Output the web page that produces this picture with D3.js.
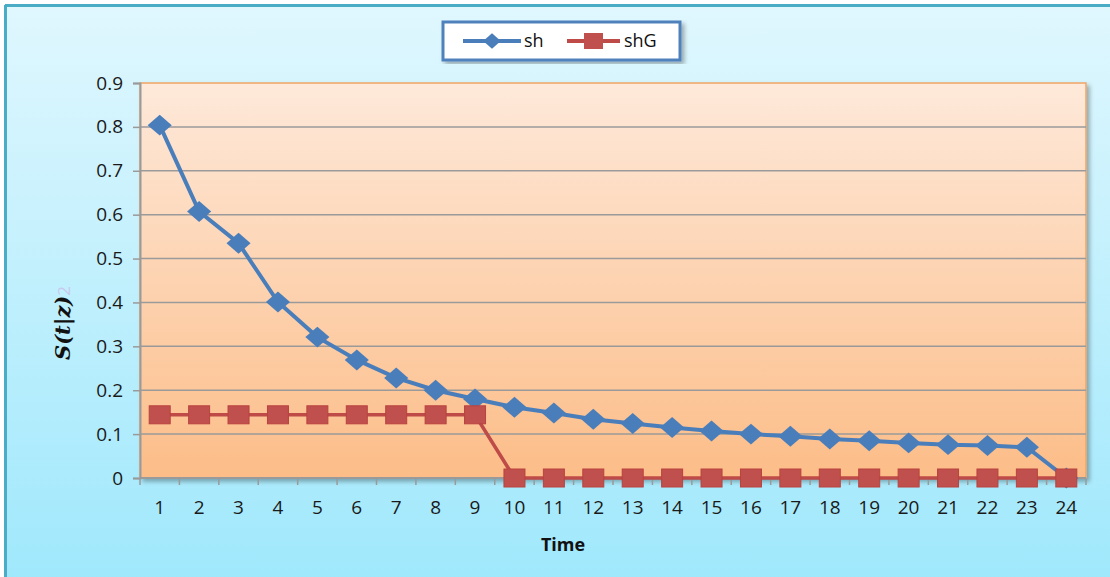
<!DOCTYPE html>
<html lang="en">
<head>
  <meta charset="UTF-8">
  <title>S(t|z) over time</title>
  <style>
    body { margin: 0; background: #fff; }
    text { font-family: "Open Sans", "Noto Sans", sans-serif; }
  </style>
</head>
<body>
  <svg width="1110" height="577"></svg>
  <script src="https://cdn.jsdelivr.net/npm/d3@7/dist/d3.min.js"></script>
  <script>
    var times = d3.range(1, 25)
    var sh = [0.804, 0.607, 0.535, 0.401, 0.321, 0.269, 0.228, 0.200, 0.180, 0.161, 0.148, 0.134,
              0.124, 0.115, 0.107, 0.100, 0.095, 0.089, 0.085, 0.080, 0.076, 0.074, 0.070, 0]
    var shG = [0.144, 0.144, 0.144, 0.144, 0.144, 0.144, 0.144, 0.144, 0.144, 0, 0, 0,
               0, 0, 0, 0, 0, 0, 0, 0, 0, 0, 0, 0]
    var yTicks = [0, 0.1, 0.2, 0.3, 0.4, 0.5, 0.6, 0.7, 0.8, 0.9]

    var svg = d3.select('svg')
    var defs = svg.append('defs')

    var bg = defs.append('linearGradient').attr('id', 'bg')
      .attr('x1', 0).attr('y1', 0).attr('x2', 0).attr('y2', 1)
    bg.append('stop').attr('offset', '0%').attr('stop-color', '#e0f7fe')
    bg.append('stop').attr('offset', '100%').attr('stop-color', '#9fe8fc')

    var pg = defs.append('linearGradient').attr('id', 'plotbg')
      .attr('x1', 0).attr('y1', 0).attr('x2', 0).attr('y2', 1)
    pg.append('stop').attr('offset', '0%').attr('stop-color', '#fee9da')
    pg.append('stop').attr('offset', '100%').attr('stop-color', '#fcbd88')

    var sf = defs.append('filter').attr('id', 'shadow')
      .attr('x', '-5%').attr('y', '-5%').attr('width', '110%').attr('height', '115%')
    sf.append('feDropShadow').attr('dx', 3).attr('dy', 3).attr('stdDeviation', 2)
      .attr('flood-color', '#000').attr('flood-opacity', 0.3)

    // outer chart area
    svg.append('rect').attr('x', 5).attr('y', 5).attr('width', 1110).attr('height', 580)
      .attr('fill', 'url(#bg)')
    svg.append('line').attr('x1', 5).attr('x2', 1110).attr('y1', 5.5).attr('y2', 5.5)
      .attr('stroke', '#4bacc6').attr('stroke-width', 3)
    svg.append('line').attr('x1', 5.5).attr('x2', 5.5).attr('y1', 5).attr('y2', 577)
      .attr('stroke', '#4bacc6').attr('stroke-width', 3)

    var pLeft = 140, pRight = 1086, pTop = 83, pBottom = 478

    var x = d3.scaleBand().domain(times).range([pLeft, pRight])
    var y = d3.scaleLinear().domain([0, 0.9]).range([pBottom, pTop])

    svg.append('rect').attr('x', pLeft).attr('y', pTop)
      .attr('width', pRight - pLeft).attr('height', pBottom - pTop)
      .attr('fill', 'url(#plotbg)').attr('stroke', '#f0a565').attr('stroke-width', 1.5)
      .attr('filter', 'url(#shadow)')

    // gridlines
    svg.append('g').selectAll('line')
      .data(yTicks.filter(function(d) { return d > 0 && d < 0.9 }))
      .enter().append('line')
      .attr('x1', pLeft).attr('x2', pRight)
      .attr('y1', function(d) { return y(d) }).attr('y2', function(d) { return y(d) })
      .attr('stroke', '#9a9a9a').attr('stroke-width', 1.5)

    // y axis
    var yAxis = svg.append('g').attr('transform', 'translate(' + pLeft + ',0)')
      .call(d3.axisLeft(y).tickValues(yTicks).tickSize(7).tickPadding(10)
        .tickFormat(function(d) { return d === 0 ? '0' : d3.format('.1f')(d) }))
    yAxis.select('.domain').attr('stroke', '#9a9a9a').attr('stroke-width', 2)
    yAxis.selectAll('.tick line').attr('stroke', '#9a9a9a').attr('stroke-width', 1.5)
    yAxis.selectAll('.tick text').attr('font-size', 19).attr('fill', '#1a1a1a')
      .style('font-family', '"Open Sans", sans-serif')

    // x axis
    var xAxis = svg.append('g').attr('transform', 'translate(0,' + pBottom + ')')
    xAxis.append('line').attr('x1', pLeft).attr('x2', pRight)
      .attr('stroke', '#9a9a9a').attr('stroke-width', 2)
    var bounds = times.map(function(t) { return x(t) }).concat([pRight])
    xAxis.selectAll('line.tk').data(bounds).enter().append('line').attr('class', 'tk')
      .attr('x1', function(d) { return d }).attr('x2', function(d) { return d })
      .attr('y1', 0).attr('y2', 7).attr('stroke', '#9a9a9a').attr('stroke-width', 1.5)
    xAxis.selectAll('text').data(times).enter().append('text')
      .attr('x', function(d) { return x(d) + x.bandwidth() / 2 })
      .attr('y', 36).attr('text-anchor', 'middle').attr('font-size', 19).attr('fill', '#1a1a1a')
      .text(function(d) { return d })

    var cx = function(d, i) { return x(times[i]) + x.bandwidth() / 2 }
    var line = d3.line().x(cx).y(function(d) { return y(d) })

    // sh series
    svg.append('path').datum(sh).attr('d', line).attr('fill', 'none')
      .attr('stroke', '#4a7ebb').attr('stroke-width', 4)
    var diamond = d3.symbol().type(d3.symbolDiamond2).size(280)
    svg.append('g').selectAll('path').data(sh).enter().append('path')
      .attr('transform', function(d, i) { return 'translate(' + cx(d, i) + ',' + y(d) + ') scale(1.15,1)' })
      .attr('d', diamond).attr('fill', '#4a7ebb')

    // shG series (drawn on top)
    svg.append('path').datum(shG).attr('d', line).attr('fill', 'none')
      .attr('stroke', '#be4b48').attr('stroke-width', 3.5)
    svg.append('g').selectAll('rect').data(shG).enter().append('rect')
      .attr('x', function(d, i) { return cx(d, i) - 10.5 })
      .attr('y', function(d) { return y(d) - 9 })
      .attr('width', 21).attr('height', 18)
      .attr('fill', '#c0504d').attr('stroke', '#b9423f').attr('stroke-width', 1)

    // axis titles
    svg.append('text').attr('x', 563).attr('y', 551).attr('text-anchor', 'middle')
      .attr('font-size', 18).attr('font-weight', 'bold').attr('fill', '#111').text('Time')
    var yt = svg.append('text').attr('transform', 'translate(70,323) rotate(-90)')
      .attr('text-anchor', 'middle').attr('font-size', 21).attr('font-weight', 'bold')
      .attr('font-style', 'italic').attr('fill', '#111')
      .style('font-family', '"DejaVu Serif", serif')
    yt.append('tspan').text('S(t|z)')
    yt.append('tspan').attr('fill', '#c9c9ee').attr('font-style', 'normal').attr('font-weight', 'normal')
      .attr('font-size', 17).style('font-family', '"Open Sans", sans-serif').text('2')

    // legend
    var lg = svg.append('g').attr('transform', 'translate(443,22)')
    lg.append('rect').attr('width', 237).attr('height', 38).attr('fill', '#fff')
      .attr('stroke', '#4f81bd').attr('stroke-width', 3).attr('filter', 'url(#shadow)')
    lg.append('line').attr('x1', 20).attr('x2', 78).attr('y1', 19).attr('y2', 19)
      .attr('stroke', '#4a7ebb').attr('stroke-width', 4)
    lg.append('path').attr('transform', 'translate(49,19) scale(1.15,1)')
      .attr('d', d3.symbol().type(d3.symbolDiamond2).size(150)).attr('fill', '#4a7ebb')
    lg.append('text').attr('x', 81).attr('y', 25).attr('font-size', 18).attr('fill', '#111').text('sh')
    lg.append('line').attr('x1', 124).attr('x2', 177).attr('y1', 19).attr('y2', 19)
      .attr('stroke', '#be4b48').attr('stroke-width', 4)
    lg.append('rect').attr('x', 141).attr('y', 11).attr('width', 19).attr('height', 16).attr('fill', '#c0504d')
    lg.append('text').attr('x', 181).attr('y', 25).attr('font-size', 18).attr('fill', '#111').text('shG')
  </script>
</body>
</html>
